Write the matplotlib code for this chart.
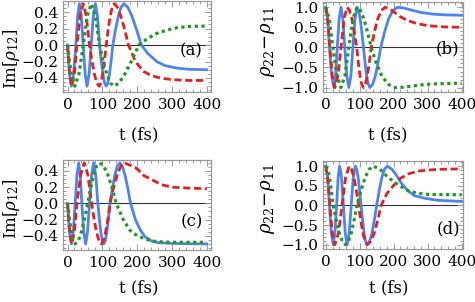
import matplotlib
matplotlib.use('Agg')
import matplotlib.pyplot as plt
from matplotlib.ticker import MultipleLocator

plt.rcParams['font.family'] = 'DejaVu Serif'
plt.rcParams['mathtext.fontset'] = 'dejavuserif'

# panels (a) and (b): one pulse, three colours
t_blue_ab = [0, 5.5, 11, 17.5, 24, 29, 34, 39.5, 45, 50.5, 56, 62, 68, 74, 80, 86, 92,
             96.75, 101.5, 106.25, 111, 115.75, 120.5, 125.25, 130, 138, 146, 154, 162,
             173, 185, 198, 212, 230, 256, 280, 314, 350, 400]
im_blue_a = [0, -0.35, -0.5, -0.35, 0, 0.35, 0.5, 0.35, 0, -0.35, -0.5, -0.35, 0, 0.35, 0.5, 0.35, 0,
             -0.19, -0.35, -0.46, -0.5, -0.46, -0.35, -0.19, 0, 0.19, 0.35, 0.46, 0.5,
             0.46, 0.35, 0.19, 0, -0.1, -0.2, -0.25, -0.28, -0.295, -0.3]
w_blue_b = [1, 0.71, 0, -0.71, -1, -0.71, 0, 0.71, 1, 0.71, 0, -0.71, -1, -0.71, 0, 0.71, 1,
            0.92, 0.71, 0.38, 0, -0.38, -0.71, -0.92, -1, -0.92, -0.71, -0.38, 0,
            0.38, 0.71, 0.92, 1, 0.98, 0.92, 0.87, 0.83, 0.81, 0.8]

t_red_ab = [0, 6, 12, 19.5, 27, 36, 45, 54, 63, 70, 77, 84, 91, 96, 101, 106, 111,
            116.75, 122.5, 128.25, 134, 143, 153, 164, 175, 195, 218, 240, 266, 300, 350, 400]
im_red_a = [0, -0.35, -0.5, -0.35, 0, 0.35, 0.5, 0.35, 0, -0.19, -0.35, -0.46, -0.5,
            -0.46, -0.35, -0.19, 0, 0.19, 0.35, 0.46, 0.5, 0.46, 0.35, 0.19, 0,
            -0.2, -0.32, -0.37, -0.4, -0.42, -0.43, -0.43]
w_red_b = [1, 0.71, 0, -0.71, -1, -0.71, 0, 0.71, 1, 0.92, 0.71, 0.38, 0,
           -0.38, -0.71, -0.92, -1, -0.92, -0.71, -0.38, 0, 0.38, 0.71, 0.92, 1,
           0.92, 0.77, 0.67, 0.6, 0.54, 0.51, 0.5]

t_green_ab = [0, 10.5, 21, 33, 45, 56.5, 68, 80, 92, 102, 112.5, 123, 134, 148, 165, 184, 205,
              230, 256, 285, 314, 350, 400]
im_green_a = [0, -0.35, -0.5, -0.35, 0, 0.35, 0.5, 0.35, 0, -0.19, -0.35, -0.46, -0.5,
              -0.46, -0.35, -0.19, 0, 0.08, 0.14, 0.18, 0.21, 0.225, 0.23]
w_green_b = [1, 0.71, 0, -0.71, -1, -0.71, 0, 0.71, 1, 0.92, 0.71, 0.38, 0,
             -0.38, -0.71, -0.92, -1, -0.99, -0.96, -0.93, -0.91, -0.9, -0.89]

# panels (c) and (d)
t_blue_cd = [0, 5.5, 11, 16.5, 22, 27, 32, 36.5, 41, 46.5, 52, 57.5, 63, 69, 75, 81, 87,
             91.25, 95.5, 99.75, 104, 108.5, 113, 117.5, 122, 129, 136, 143, 150,
             157.5, 165, 173, 181, 195, 208, 222, 240, 260, 292, 330, 400]
im_blue_c = [0, -0.35, -0.5, -0.35, 0, 0.35, 0.5, 0.35, 0, -0.35, -0.5, -0.35, 0, 0.35, 0.5, 0.35, 0,
             -0.19, -0.35, -0.46, -0.5, -0.46, -0.35, -0.19, 0, 0.19, 0.35, 0.46, 0.5,
             0.46, 0.35, 0.19, 0, -0.2, -0.32, -0.41, -0.46, -0.485, -0.492, -0.497, -0.5]
w_blue_d = [1, 0.71, 0, -0.71, -1, -0.71, 0, 0.71, 1, 0.71, 0, -0.71, -1, -0.71, 0, 0.71, 1,
            0.92, 0.71, 0.38, 0, -0.38, -0.71, -0.92, -1, -0.92, -0.71, -0.38, 0,
            0.38, 0.71, 0.92, 1, 0.92, 0.77, 0.57, 0.39, 0.25, 0.18, 0.13, 0.1]

t_red_cd = [0, 6, 12, 19.5, 27, 37.5, 48, 58.5, 69, 76, 83, 90, 97, 103, 109.5, 116, 122,
            132, 142.5, 153, 163, 180, 199, 220, 243, 270, 300, 340, 400]
im_red_c = [0, -0.35, -0.5, -0.35, 0, 0.35, 0.5, 0.35, 0, -0.19, -0.35, -0.46, -0.5,
            -0.46, -0.35, -0.19, 0, 0.19, 0.35, 0.46, 0.5,
            0.47, 0.43, 0.34, 0.29, 0.23, 0.2, 0.19, 0.18]
w_red_d = [1, 0.71, 0, -0.71, -1, -0.71, 0, 0.71, 1, 0.92, 0.71, 0.38, 0,
           -0.38, -0.71, -0.92, -1, -0.92, -0.71, -0.38, 0,
           0.3, 0.5, 0.69, 0.8, 0.87, 0.9, 0.92, 0.93]

t_green_cd = [0, 5.5, 11, 16.5, 22, 31, 40, 49, 58, 66.5, 75, 83.5, 92, 104, 116, 128, 140,
              160, 179, 200, 218, 243, 270, 300, 400]
im_green_c = [0, -0.19, -0.35, -0.46, -0.5, -0.46, -0.35, -0.19, 0, 0.19, 0.35, 0.46, 0.5,
              0.46, 0.35, 0.19, 0, -0.2, -0.33, -0.4, -0.43, -0.465, -0.475, -0.48, -0.48]
w_green_d = [1, 0.92, 0.71, 0.38, 0, -0.38, -0.71, -0.92, -1, -0.92, -0.71, -0.38, 0,
             0.38, 0.71, 0.92, 1, 0.92, 0.75, 0.6, 0.5, 0.37, 0.31, 0.28, 0.27]

panel_tags = ['(a)', '(b)', '(c)', '(d)']
x_ticks = [0, 100, 200, 300, 400]

blue = '#4d84ef'
red = '#e61e1e'
green = '#1f9a1f'
frame_gray = '#999999'

W, H = 475.0, 302.0
fig = plt.figure(figsize=(4.75, 3.02), dpi=100)


def px_axes(left, top, right, bottom):
    return fig.add_axes((left / W, 1 - bottom / H, (right - left) / W, (bottom - top) / H))


def style(ax, ymaj, ymin, fmt):
    for s in ax.spines.values():
        s.set_color(frame_gray)
        s.set_linewidth(0.9)
    ax.set_xticks(x_ticks)
    ax.xaxis.set_minor_locator(MultipleLocator(20))
    ax.yaxis.set_major_locator(MultipleLocator(ymaj))
    ax.yaxis.set_minor_locator(MultipleLocator(ymin))
    ax.yaxis.set_major_formatter(plt.FuncFormatter(lambda v, p: (fmt % v).replace('-', '\u2212')))
    ax.tick_params(which='both', direction='in', top=True, right=True, color=frame_gray,
                   labelsize=11, width=0.7)
    ax.tick_params(which='major', length=4)
    ax.tick_params(which='minor', length=2)
    ax.tick_params(axis='x', pad=4)
    ax.tick_params(axis='y', pad=3.5)
    ax.axhline(0, color='#333333', lw=0.8, zorder=1)


def draw(ax, series):
    for t, y, kind in series:
        if kind == 'blue':
            ax.plot(t, y, color=blue, lw=2.0, zorder=3)
        elif kind == 'red':
            ax.plot(t, y, color=red, lw=2.0, dashes=(2.6, 1.3), zorder=3)
        else:
            ax.plot(t, y, color=green, lw=2.3, dashes=(1.0, 1.1), zorder=3)


ax_a = px_axes(63, 0.5, 211, 92)
draw(ax_a, [(t_blue_ab, im_blue_a, 'blue'), (t_red_ab, im_red_a, 'red'), (t_green_ab, im_green_a, 'green')])
ax_a.set_xlim(-13, 412)
ax_a.set_ylim(-0.57, 0.54)
style(ax_a, 0.2, 0.05, '%.1f')

ax_b = px_axes(323, 2, 463, 92)
draw(ax_b, [(t_blue_ab, w_blue_b, 'blue'), (t_red_ab, w_red_b, 'red'), (t_green_ab, w_green_b, 'green')])
ax_b.set_xlim(-8, 404)
ax_b.set_ylim(-1.11, 1.13)
style(ax_b, 0.5, 0.1, '%.1f')

ax_c = px_axes(63, 160, 211, 250)
draw(ax_c, [(t_blue_cd, im_blue_c, 'blue'), (t_red_cd, im_red_c, 'red'), (t_green_cd, im_green_c, 'green')])
ax_c.set_xlim(-13, 412)
ax_c.set_ylim(-0.575, 0.535)
style(ax_c, 0.2, 0.05, '%.1f')

ax_d = px_axes(323, 161, 463, 249)
draw(ax_d, [(t_blue_cd, w_blue_d, 'blue'), (t_red_cd, w_red_d, 'red'), (t_green_cd, w_green_d, 'green')])
ax_d.set_xlim(-8, 404)
ax_d.set_ylim(-1.11, 1.13)
style(ax_d, 0.5, 0.1, '%.1f')

# panel tags
ax_a.text(355, -0.07, panel_tags[0], fontsize=12, ha='center', va='center')
ax_b.text(357, -0.04, panel_tags[1], fontsize=12, ha='center', va='center')
ax_c.text(357, -0.23, panel_tags[2], fontsize=12, ha='center', va='center')
ax_d.text(360, -0.6, panel_tags[3], fontsize=12, ha='center', va='center')

# axis labels
im_label = r'$\mathrm{Im}[\rho_{12}]$'
inv_label = r'$\rho_{22}\!-\!\rho_{11}$'
fig.text(11 / W, 1 - 59 / H, im_label, rotation=90, fontsize=12, ha='center', va='center')
fig.text(11 / W, 1 - 209 / H, im_label, rotation=90, fontsize=12, ha='center', va='center')
fig.text(268 / W, 1 - 42 / H, inv_label, rotation=90, fontsize=13, ha='center', va='center')
fig.text(268 / W, 1 - 199 / H, inv_label, rotation=90, fontsize=13, ha='center', va='center')
for x, y in [(139, 135), (388, 135), (139, 288), (389, 288)]:
    fig.text(x / W, 1 - y / H, 't (fs)', fontsize=12, ha='center', va='center')

fig.savefig('out.png', dpi=100)
